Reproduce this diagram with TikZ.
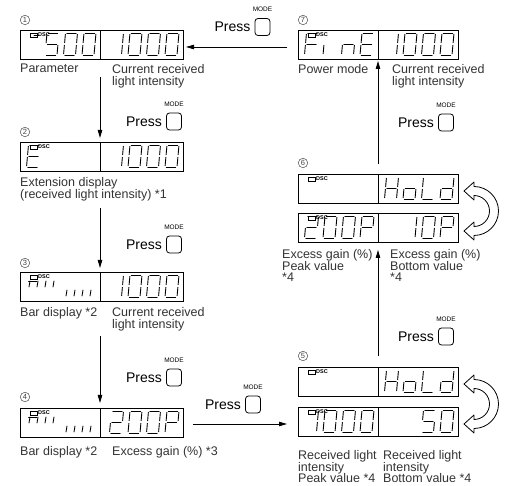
\documentclass[tikz,border=0pt]{standalone}
\usepackage{fontspec}
\setmainfont{Liberation Sans}
\usetikzlibrary{arrows.meta,calc,positioning}

% segments of one digit cell
\def\segxa{\draw[segline] (0.12,0) -- (0.88,0);}
\def\segxb{\draw[segline] (1,0.06) -- (1,0.44);}
\def\segxc{\draw[segline] (1,0.56) -- (1,0.94);}
\def\segxd{\draw[segline] (0.12,1) -- (0.88,1);}
\def\segxe{\draw[segline] (0,0.56) -- (0,0.94);}
\def\segxf{\draw[segline] (0,0.06) -- (0,0.44);}
\def\segxg{\draw[segline] (0.12,0.5) -- (0.88,0.5);}

\def\dzero{a,b,c,d,e,f}
\def\done{b,c}
\def\dtwo{a,b,g,e,d}
\def\dfive{a,f,g,c,d}
\def\dE{a,f,g,e,d}
\def\dF{a,f,g,e}
\def\dP{a,b,f,g,e}
\def\dH{b,c,e,f,g}
\def\dlo{c,d,e,g}
\def\dL{d,e,f}
\def\dld{b,c,d,e,g}
\def\dli{e}
\def\dln{c,e,g}

% #1 right edge of half, #2 top, #3 cell 0..3, #4 segments
\newcommand\segat[4]{%
  \begin{scope}[shift={({#1-16-(3-#3)*18.5},#2)},x={(12pt,0pt)},y={(-2pt,-22pt)}]
    \foreach \s in #4 {\csname segx\s\endcsname}
  \end{scope}}

% #1 name, #2 left, #3 top, #4 width
\newcommand\display[4]{%
  \node[dispbox,minimum width=#4pt,anchor=north west] (#1) at (#2,#3) {};
  \coordinate (#1d) at ($(#1.north west)+(80,0)$);
  \draw[displine] (#1d) -- (#1d |- #1.south);
  \draw[dscline] ($(#1.north west)+(10,3)$) rectangle ++(7,4);
  \node[dsc] at ($(#1.north west)+(18,2.5)$) {DSC};}

\newcommand\bars[1]{%
  \draw[segline] (28.5,#1+9) -- (37,#1+9);
  \foreach \bx in {29,37,45,53} \draw[segline] (\bx+1,#1+9) -- (\bx,#1+15);
  \foreach \bx in {66,74,82,90} \draw[segline] (\bx+1,#1+18) -- (\bx,#1+24);}

\newcommand\swaparrow[2]{%
  \draw[hollow] (#1,#2-24.5) arc[start angle=90,end angle=-90,radius=24.5pt]
    -- (#1,#2+29) -- (#1-10,#2+20) -- (#1,#2+11) -- (#1,#2+15.5)
    arc[start angle=-90,end angle=90,radius=15.5pt]
    -- (#1,#2-11) -- (#1-10,#2-20) -- (#1,#2-29) -- cycle;}

\begin{document}
\begin{tikzpicture}[x=1pt,y=-1pt,
  dispbox/.style={draw,line width=0.8pt,inner sep=0,outer sep=0,minimum height=29pt},
  displine/.style={line width=0.8pt},
  dscline/.style={line width=0.6pt},
  dsc/.style={font=\fontsize{5.5}{5.5}\selectfont\bfseries,inner sep=0,anchor=north west},
  segline/.style={line width=0.9pt,line cap=round},
  lbl/.style={font=\fontsize{12.5}{11.8}\selectfont,text=black!80,inner sep=0,anchor=north west,align=left},
  num/.style={circle,draw=black!70,line width=0.5pt,minimum size=9.5pt,inner sep=0,
    font=\fontsize{7.5}{7.5}\selectfont,text=black!75},
  btn/.style={draw,line width=0.8pt,rounded corners=3pt,minimum width=15pt,minimum height=17pt,inner sep=0},
  presslbl/.style={font=\fontsize{14}{14}\selectfont,inner sep=0},
  modelbl/.style={font=\fontsize{6.5}{6.5}\selectfont,inner sep=0},
  flow/.style={line width=0.8pt,-{Triangle[length=8pt,width=4.5pt]}},
  hollow/.style={draw,line width=0.8pt,fill=white,line join=round}]
\useasboundingbox (0,0) rectangle (509,486);

\display{d1}{20}{30}{163}
\display{d7}{298}{30}{160}
\display{d2}{20}{142}{163}
\display{d3}{20}{272}{163}
\display{d4}{20}{408}{163}
\display{d6a}{298}{174}{160}
\display{d6b}{298}{213}{160}
\display{d5a}{298}{367}{160}
\display{d5b}{298}{407}{160}

\draw[segline] (34,35) -- (39,35);
\segat{100}{33}{1}{\dfive}
\segat{100}{33}{2}{\dzero}
\segat{100}{33}{3}{\dzero}
\segat{183}{33}{0}{\done}
\segat{183}{33}{1}{\dzero}
\segat{183}{33}{2}{\dzero}
\segat{183}{33}{3}{\dzero}

\segat{378}{33}{0}{\dF}
\segat{378}{33}{1}{\dli}
\segat{378}{33}{2}{\dln}
\segat{378}{33}{3}{\dE}
\segat{458}{33}{0}{\done}
\segat{458}{33}{1}{\dzero}
\segat{458}{33}{2}{\dzero}
\segat{458}{33}{3}{\dzero}

\segat{100}{145}{0}{\dE}
\segat{183}{145}{0}{\done}
\segat{183}{145}{1}{\dzero}
\segat{183}{145}{2}{\dzero}
\segat{183}{145}{3}{\dzero}

\bars{272}
\segat{183}{275}{0}{\done}
\segat{183}{275}{1}{\dzero}
\segat{183}{275}{2}{\dzero}
\segat{183}{275}{3}{\dzero}

\bars{408}
\segat{183}{411}{0}{\dtwo}
\segat{183}{411}{1}{\dzero}
\segat{183}{411}{2}{\dzero}
\segat{183}{411}{3}{\dP}

\segat{458}{177}{0}{\dH}
\segat{458}{177}{1}{\dlo}
\segat{458}{177}{2}{\dL}
\segat{458}{177}{3}{\dld}
\segat{378}{216}{0}{\dtwo}
\segat{378}{216}{1}{\dzero}
\segat{378}{216}{2}{\dzero}
\segat{378}{216}{3}{\dP}
\segat{458}{216}{1}{\done}
\segat{458}{216}{2}{\dzero}
\segat{458}{216}{3}{\dP}

\segat{458}{370}{0}{\dH}
\segat{458}{370}{1}{\dlo}
\segat{458}{370}{2}{\dL}
\segat{458}{370}{3}{\dld}
\segat{378}{410}{0}{\done}
\segat{378}{410}{1}{\dzero}
\segat{378}{410}{2}{\dzero}
\segat{378}{410}{3}{\dzero}
\segat{458}{410}{2}{\dfive}
\segat{458}{410}{3}{\dzero}

\swaparrow{474}{211}
\swaparrow{474}{404}

\node[num] (n1) at (25,20) {1};
\node[num] (n7) at (303,20) {7};
\node[num] (n2) at (25,132) {2};
\node[num] (n3) at (25,263) {3};
\node[num] (n4) at (25,397) {4};
\node[num] (n6) at (303,163) {6};
\node[num] (n5) at (303,356) {5};

\node[lbl] (t1a) at (20,64) {Parameter};
\node[lbl] (t1b) at (112,64) {Current received\\light intensity};
\node[lbl] (t7a) at (298,64) {Power mode};
\node[lbl] (t7b) at (392,64) {Current received\\light intensity};
\node[lbl] (t2) at (20,177) {Extension display\\(received light intensity) *1};
\node[lbl] (t3a) at (20,307) {Bar display *2};
\node[lbl] (t3b) at (112,307) {Current received\\light intensity};
\node[lbl] (t4a) at (20,446) {Bar display *2};
\node[lbl] (t4b) at (112,446) {Excess gain (\%) *3};
\node[lbl] (t6a) at (282,249) {Excess gain (\%)\\Peak value\\*4};
\node[lbl] (t6b) at (390,249) {Excess gain (\%)\\Bottom value\\*4};
\node[lbl] (t5a) at (298,450) {Received light\\intensity\\Peak value *4};
\node[lbl] (t5b) at (383,450) {Received light\\intensity\\Bottom value *4};

\node[btn] (b71) at (262.5,27) {};
\node[modelbl,above=6pt of b71] (m71) {MODE};
\node[presslbl,left=4pt of b71] (p71) {Press};
\node[btn] (b12) at (174,121.5) {};
\node[modelbl,above=6pt of b12] (m12) {MODE};
\node[presslbl,left=4pt of b12] (p12) {Press};
\node[btn] (b23) at (174,244.5) {};
\node[modelbl,above=6pt of b23] (m23) {MODE};
\node[presslbl,left=4pt of b23] (p23) {Press};
\node[btn] (b34) at (174,377.5) {};
\node[modelbl,above=6pt of b34] (m34) {MODE};
\node[presslbl,left=4pt of b34] (p34) {Press};
\node[btn] (b45) at (253,404.5) {};
\node[modelbl,above=6pt of b45] (m45) {MODE};
\node[presslbl,left=4pt of b45] (p45) {Press};
\node[btn] (b56) at (446,336.5) {};
\node[modelbl,above=6pt of b56] (m56) {MODE};
\node[presslbl,left=4pt of b56] (p56) {Press};
\node[btn] (b67) at (446,122.5) {};
\node[modelbl,above=6pt of b67] (m67) {MODE};
\node[presslbl,left=4pt of b67] (p67) {Press};

\draw[flow] ($(d7.west)+(-11,2.5)$) -- ($(d1.east)+(3,2.5)$);
\draw[flow] ($(d1d |- d1.south)+(0,18)$) -- ($(d2d)+(0,-4)$);
\draw[flow] ($(d2d |- d2.south)+(0,37)$) -- ($(d3d)+(0,-4)$);
\draw[flow] ($(d3d |- d3.south)+(0,35)$) -- ($(d4d)+(0,-5)$);
\draw[flow] ($(d4.east)+(10,1.5)$) -- ($(d5b.west)+(-11,2.5)$);
\draw[flow] ($(d5ad)+(0,-11)$) -- ($(d6bd |- d6b.south)+(0,8)$);
\draw[flow] ($(d6ad)+(0,-10)$) -- ($(d7d |- d7.south)+(0,2)$);
\end{tikzpicture}
\end{document}
